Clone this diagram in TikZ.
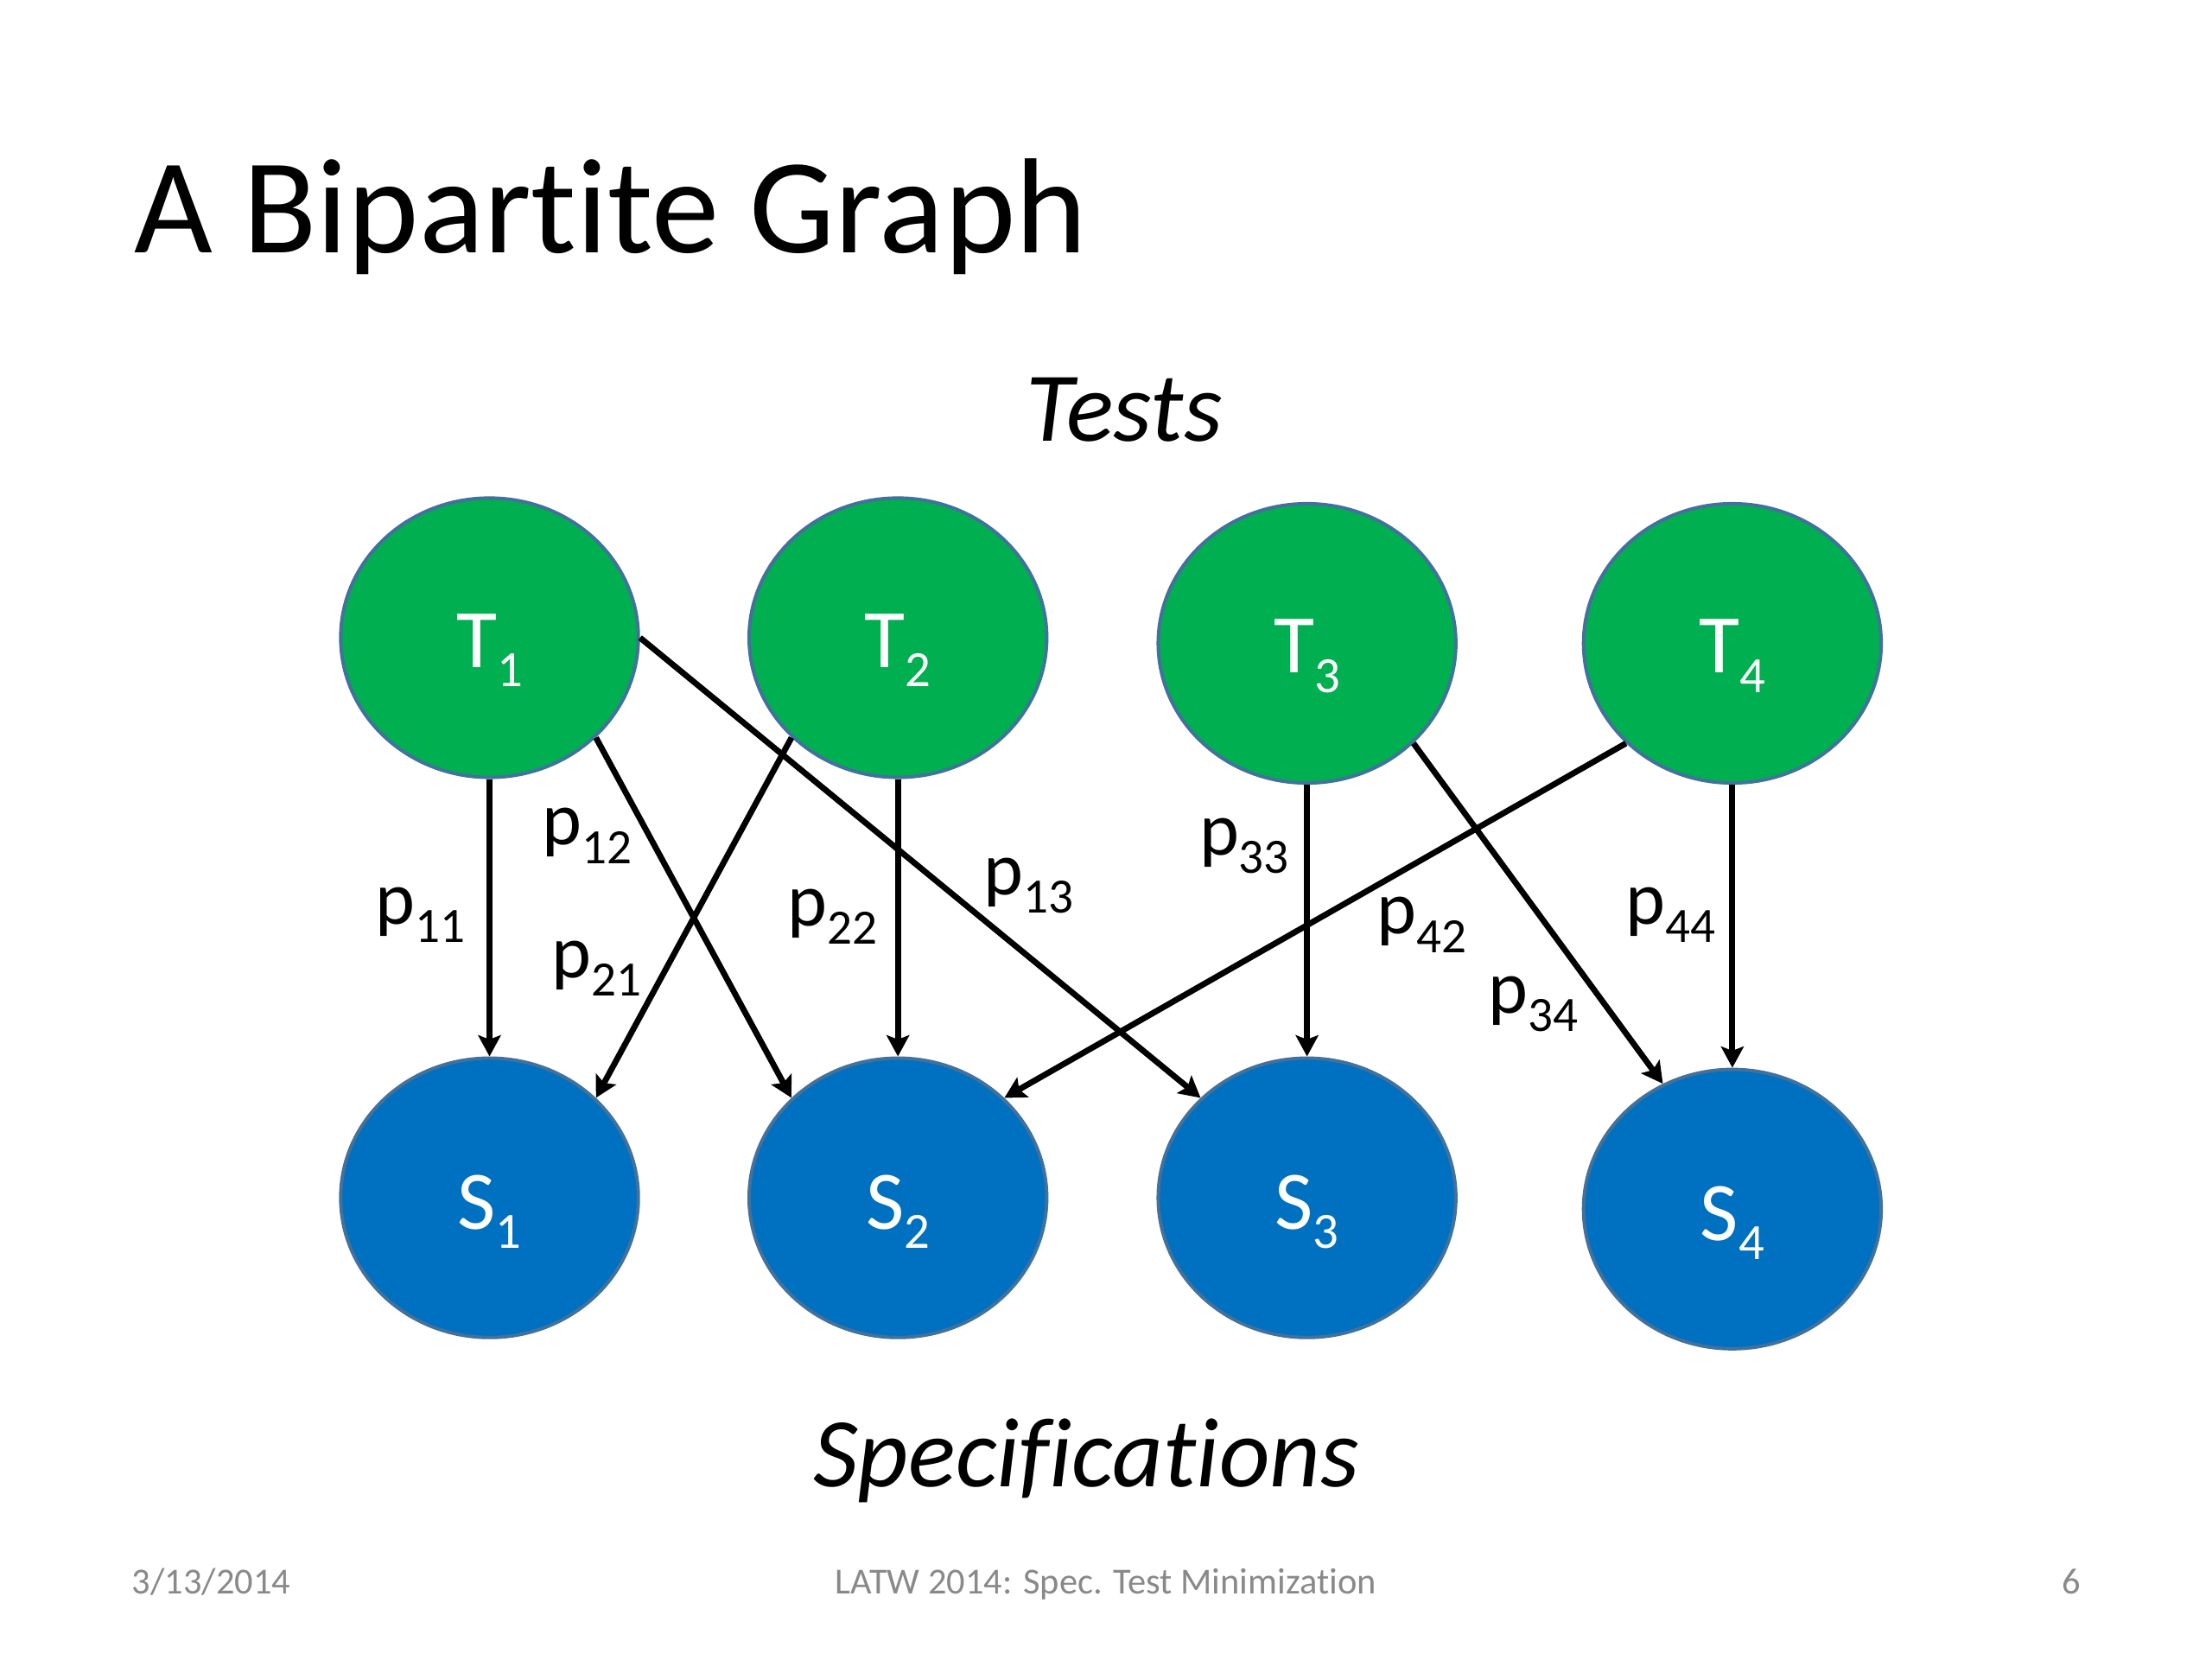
\documentclass[tikz,border=0pt]{standalone}
\usepackage{fontspec}
\setmainfont[Ligatures=NoCommon]{Carlito}
\usetikzlibrary{arrows.meta,shapes.geometric,calc}
\definecolor{tgreen}{HTML}{00B050}
\definecolor{sblue}{HTML}{0070C0}
\definecolor{nodeedge}{HTML}{41719C}
\definecolor{footgray}{HTML}{898989}
\newcommand{\vsubs}[1]{{\fontsize{36}{36}\selectfont\raisebox{-13.7pt}{#1}}}
\newcommand{\psubs}[1]{{\fontsize{35}{35}\selectfont\raisebox{-13pt}{#1}}}
\begin{document}
\begin{tikzpicture}[x=1pt,y=-1pt,
  vert/.style={ellipse, draw=nodeedge, line width=2.4pt, minimum width=211pt, minimum height=198pt, inner sep=0pt},
  testnode/.style={vert, fill=tgreen},
  specnode/.style={vert, fill=sblue},
  vlabel/.style={text=white, inner sep=0pt, anchor=base, font=\fontsize{59}{59}\selectfont},
  plabel/.style={inner sep=0pt, anchor=base west, font=\fontsize{53.5}{54}\selectfont},
  conn/.style={-{Stealth[length=15pt,width=16pt,inset=3pt]}, line width=4.2pt},
  foot/.style={inner sep=0pt, text=footgray, font=\fontsize{26}{26}\selectfont},
]
\useasboundingbox (0,0) rectangle (1568,1176);
\fill[white] (0,0) rectangle (1568,1176);

% title and headings
\node[inner sep=0pt, anchor=base west, font=\fontsize{96}{96}\selectfont] (title) at (95,179) {A Bipartite Graph};
\node[inner sep=0pt, anchor=base, font=\itshape\fontsize{70}{70}\selectfont] (tests) at (797,312.4) {Tests};
\node[inner sep=0pt, anchor=base, font=\itshape\fontsize{70}{70}\selectfont] (specs) at (770,1053.5) {Specifications};

% vertices
\node[testnode] (T1) at (347,452) {};
\node[testnode] (T2) at (636.5,452) {};
\node[testnode] (T3) at (926.5,456) {};
\node[testnode] (T4) at (1228,456) {};
\node[specnode] (S1) at (347,849) {};
\node[specnode] (S2) at (636.5,849) {};
\node[specnode] (S3) at (926.5,849) {};
\node[specnode] (S4) at (1228,857) {};

\node[vlabel] (T1t) at ($(T1.center)+(0,21)$) {T\vsubs{1}};
\node[vlabel] (T2t) at ($(T2.center)+(0,21)$) {T\vsubs{2}};
\node[vlabel] (T3t) at ($(T3.center)+(0,21)$) {T\vsubs{3}};
\node[vlabel] (T4t) at ($(T4.center)+(0,21)$) {T\vsubs{4}};
\node[vlabel] (S1t) at ($(S1.center)+(0,22)$) {S\vsubs{1}};
\node[vlabel] (S2t) at ($(S2.center)+(0,22)$) {S\vsubs{2}};
\node[vlabel] (S3t) at ($(S3.center)+(0,22)$) {S\vsubs{3}};
\node[vlabel] (S4t) at ($(S4.center)+(0,22)$) {S\vsubs{4}};

% connectors
\draw[conn] (T1.south) -- (S1.north);
\draw[conn] (T1.south east) -- (S2.north west);
\draw[conn] (T1.east) -- (S3.north west);
\draw[conn] (T2.south west) -- (S1.north east);
\draw[conn] (T2.south) -- (S2.north);
\draw[conn] (T3.south) -- (S3.north);
\draw[conn] (T3.south east) -- (S4.119);
\draw[conn] (T4.south west) -- (S2.north east);
\draw[conn] (T4.south) -- (S4.north);

% probability labels
\node[plabel] (p11) at (266,655) {p\psubs{11}};
\node[plabel] (p12) at (384,599) {p\psubs{12}};
\node[plabel] (p21) at (391,693) {p\psubs{21}};
\node[plabel] (p22) at (558,656) {p\psubs{22}};
\node[plabel] (p13) at (697,634) {p\psubs{13}};
\node[plabel] (p33) at (850,606) {p\psubs{33}};
\node[plabel] (p42) at (976,662) {p\psubs{42}};
\node[plabel] (p44) at (1152,655) {p\psubs{44}};
\node[plabel] (p34) at (1055,718) {p\psubs{34}};

% footer
\node[foot, anchor=base west] (date) at (93.5,1130) {3/13/2014};
\node[foot, anchor=base] (conf) at (784,1130) {LATW 2014: Spec. Test Minimization};
\node[foot, anchor=base east] (page) at (1475,1130) {6};
\end{tikzpicture}
\end{document}
